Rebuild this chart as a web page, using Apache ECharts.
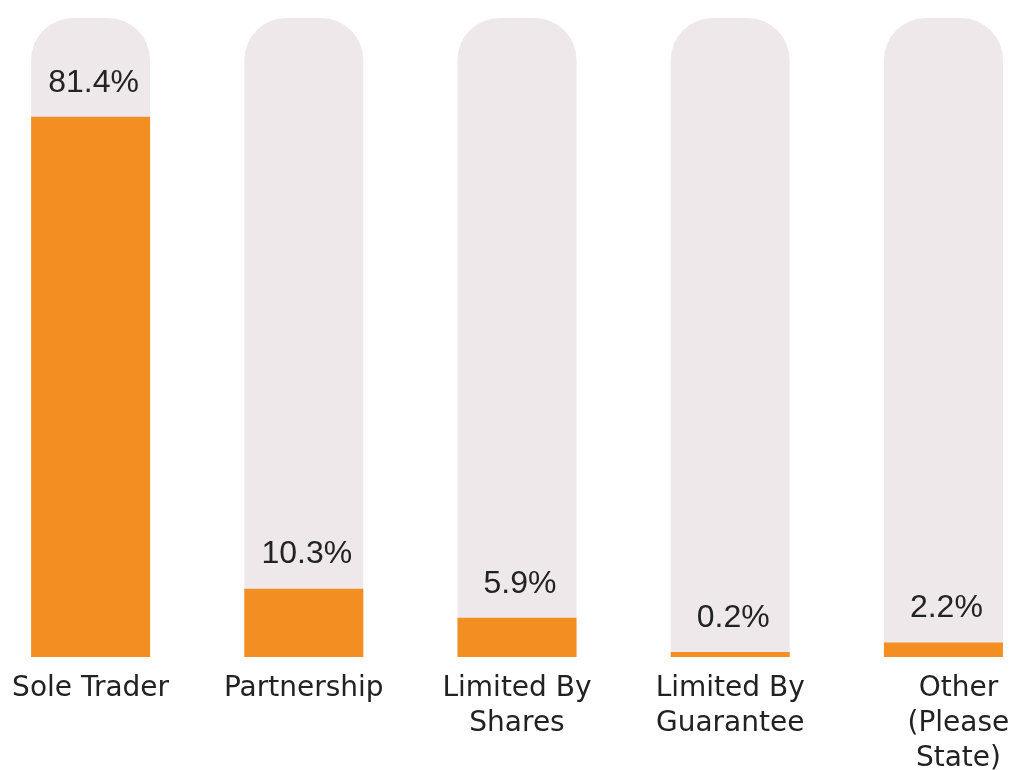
<!DOCTYPE html>
<html><head><meta charset="utf-8">
<script src="https://cdn.jsdelivr.net/npm/echarts@6/dist/echarts.min.js"></script>
<style>html,body{margin:0;padding:0;background:#fff}#c{width:1015px;height:770px}</style>
</head><body><div id="c"></div>
<script>
var categories = ['Sole Trader', 'Partnership', 'Limited By\nShares', 'Limited By\nGuarantee', 'Other\n(Please\nState)'];
var values = [81.4, 10.3, 5.9, 0.2, 2.2];
var chart = echarts.init(document.getElementById('c'));
chart.setOption({
  animation: false,
  grid: { left: -16, right: -35, top: 18, bottom: 113, outerBoundsMode: 'none', containLabel: false },
  xAxis: {
    type: 'category',
    data: categories.map(function (c, i) {
      return i === 4 ? { value: c, textStyle: { padding: [0, 0, 0, 30] } } : c;
    }),
    axisLine: { show: false }, axisTick: { show: false },
    axisLabel: { interval: 0, margin: 14, fontFamily: 'DejaVu Sans', fontSize: 28, color: '#222', lineHeight: 35 }
  },
  yAxis: { type: 'value', min: 0, max: 96.3, show: false, splitLine: { show: false } },
  series: [{
    type: 'bar',
    data: values,
    barWidth: 119,
    barMinHeight: 5,
    itemStyle: { color: '#F28E22' },
    showBackground: true,
    backgroundStyle: { color: '#EFE8EB', borderRadius: [42, 42, 0, 0] },
    label: {
      show: true, position: 'top', distance: 18, offset: [3, 0],
      formatter: function (p) { return p.value.toFixed(1) + '%'; },
      fontFamily: 'Liberation Sans', fontSize: 32, color: '#222'
    }
  }]
});
</script></body></html>
